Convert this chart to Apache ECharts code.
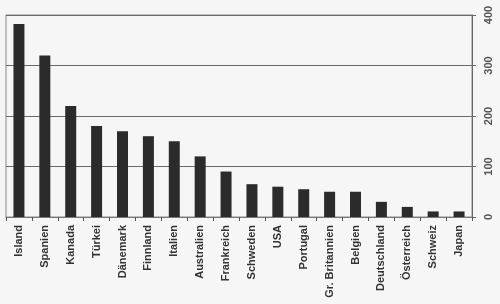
<!DOCTYPE html>
<html>
<head>
<meta charset="utf-8">
<script src="https://cdn.jsdelivr.net/npm/echarts@6/dist/echarts.min.js"></script>
<style>
html,body{margin:0;padding:0;background:#f6f6f6;}
#c{width:500px;height:304px;}
</style>
</head>
<body>
<div id="c"></div>
<script>
const categories = ["Island","Spanien","Kanada","Türkei","Dänemark","Finnland","Italien","Australien","Frankreich","Schweden","USA","Portugal","Gr. Britannien","Belgien","Deutschland","Österreich","Schweiz","Japan"];
const values = [382,320,220,180,170,160,150,120,90,65,60,55,50,50,30,20,11,11];
const yTicks = [0,100,200,300,400];

const chart = echarts.init(document.getElementById('c'), null, {renderer:'canvas'});
chart.setOption({
  backgroundColor: '#f6f6f6',
  animation: false,
  grid: {left: 6, right: 28, top: 15, bottom: 87, show: true, borderColor: '#8a8a8a', borderWidth: 1, backgroundColor: 'transparent'},
  xAxis: {
    type: 'category',
    data: categories,
    axisLine: {show: true, lineStyle: {color: '#777', width: 1}},
    axisTick: {show: true, length: 4, lineStyle: {color: '#555'}},
    axisLabel: {rotate: 90, margin: 8, interval: 0, color: '#333', fontFamily: 'Liberation Sans, Arial, sans-serif', fontSize: 11, fontWeight: 'bold'}
  },
  yAxis: {
    type: 'value',
    position: 'right',
    min: yTicks[0],
    max: yTicks[yTicks.length-1],
    interval: 100,
    axisLine: {show: true, lineStyle: {color: '#666', width: 1}},
    axisTick: {show: true, length: 4, lineStyle: {color: '#666'}},
    splitLine: {show: true, lineStyle: {color: '#6a6a6a', width: 1}},
    axisLabel: {rotate: 90, margin: 11, color: '#555', fontFamily: 'Liberation Sans, Arial, sans-serif', fontSize: 11, fontWeight: 'bold'}
  },
  series: [{
    type: 'bar',
    data: values,
    barWidth: 11,
    itemStyle: {color: '#2b2b2b'}
  }]
});
</script>
</body>
</html>
